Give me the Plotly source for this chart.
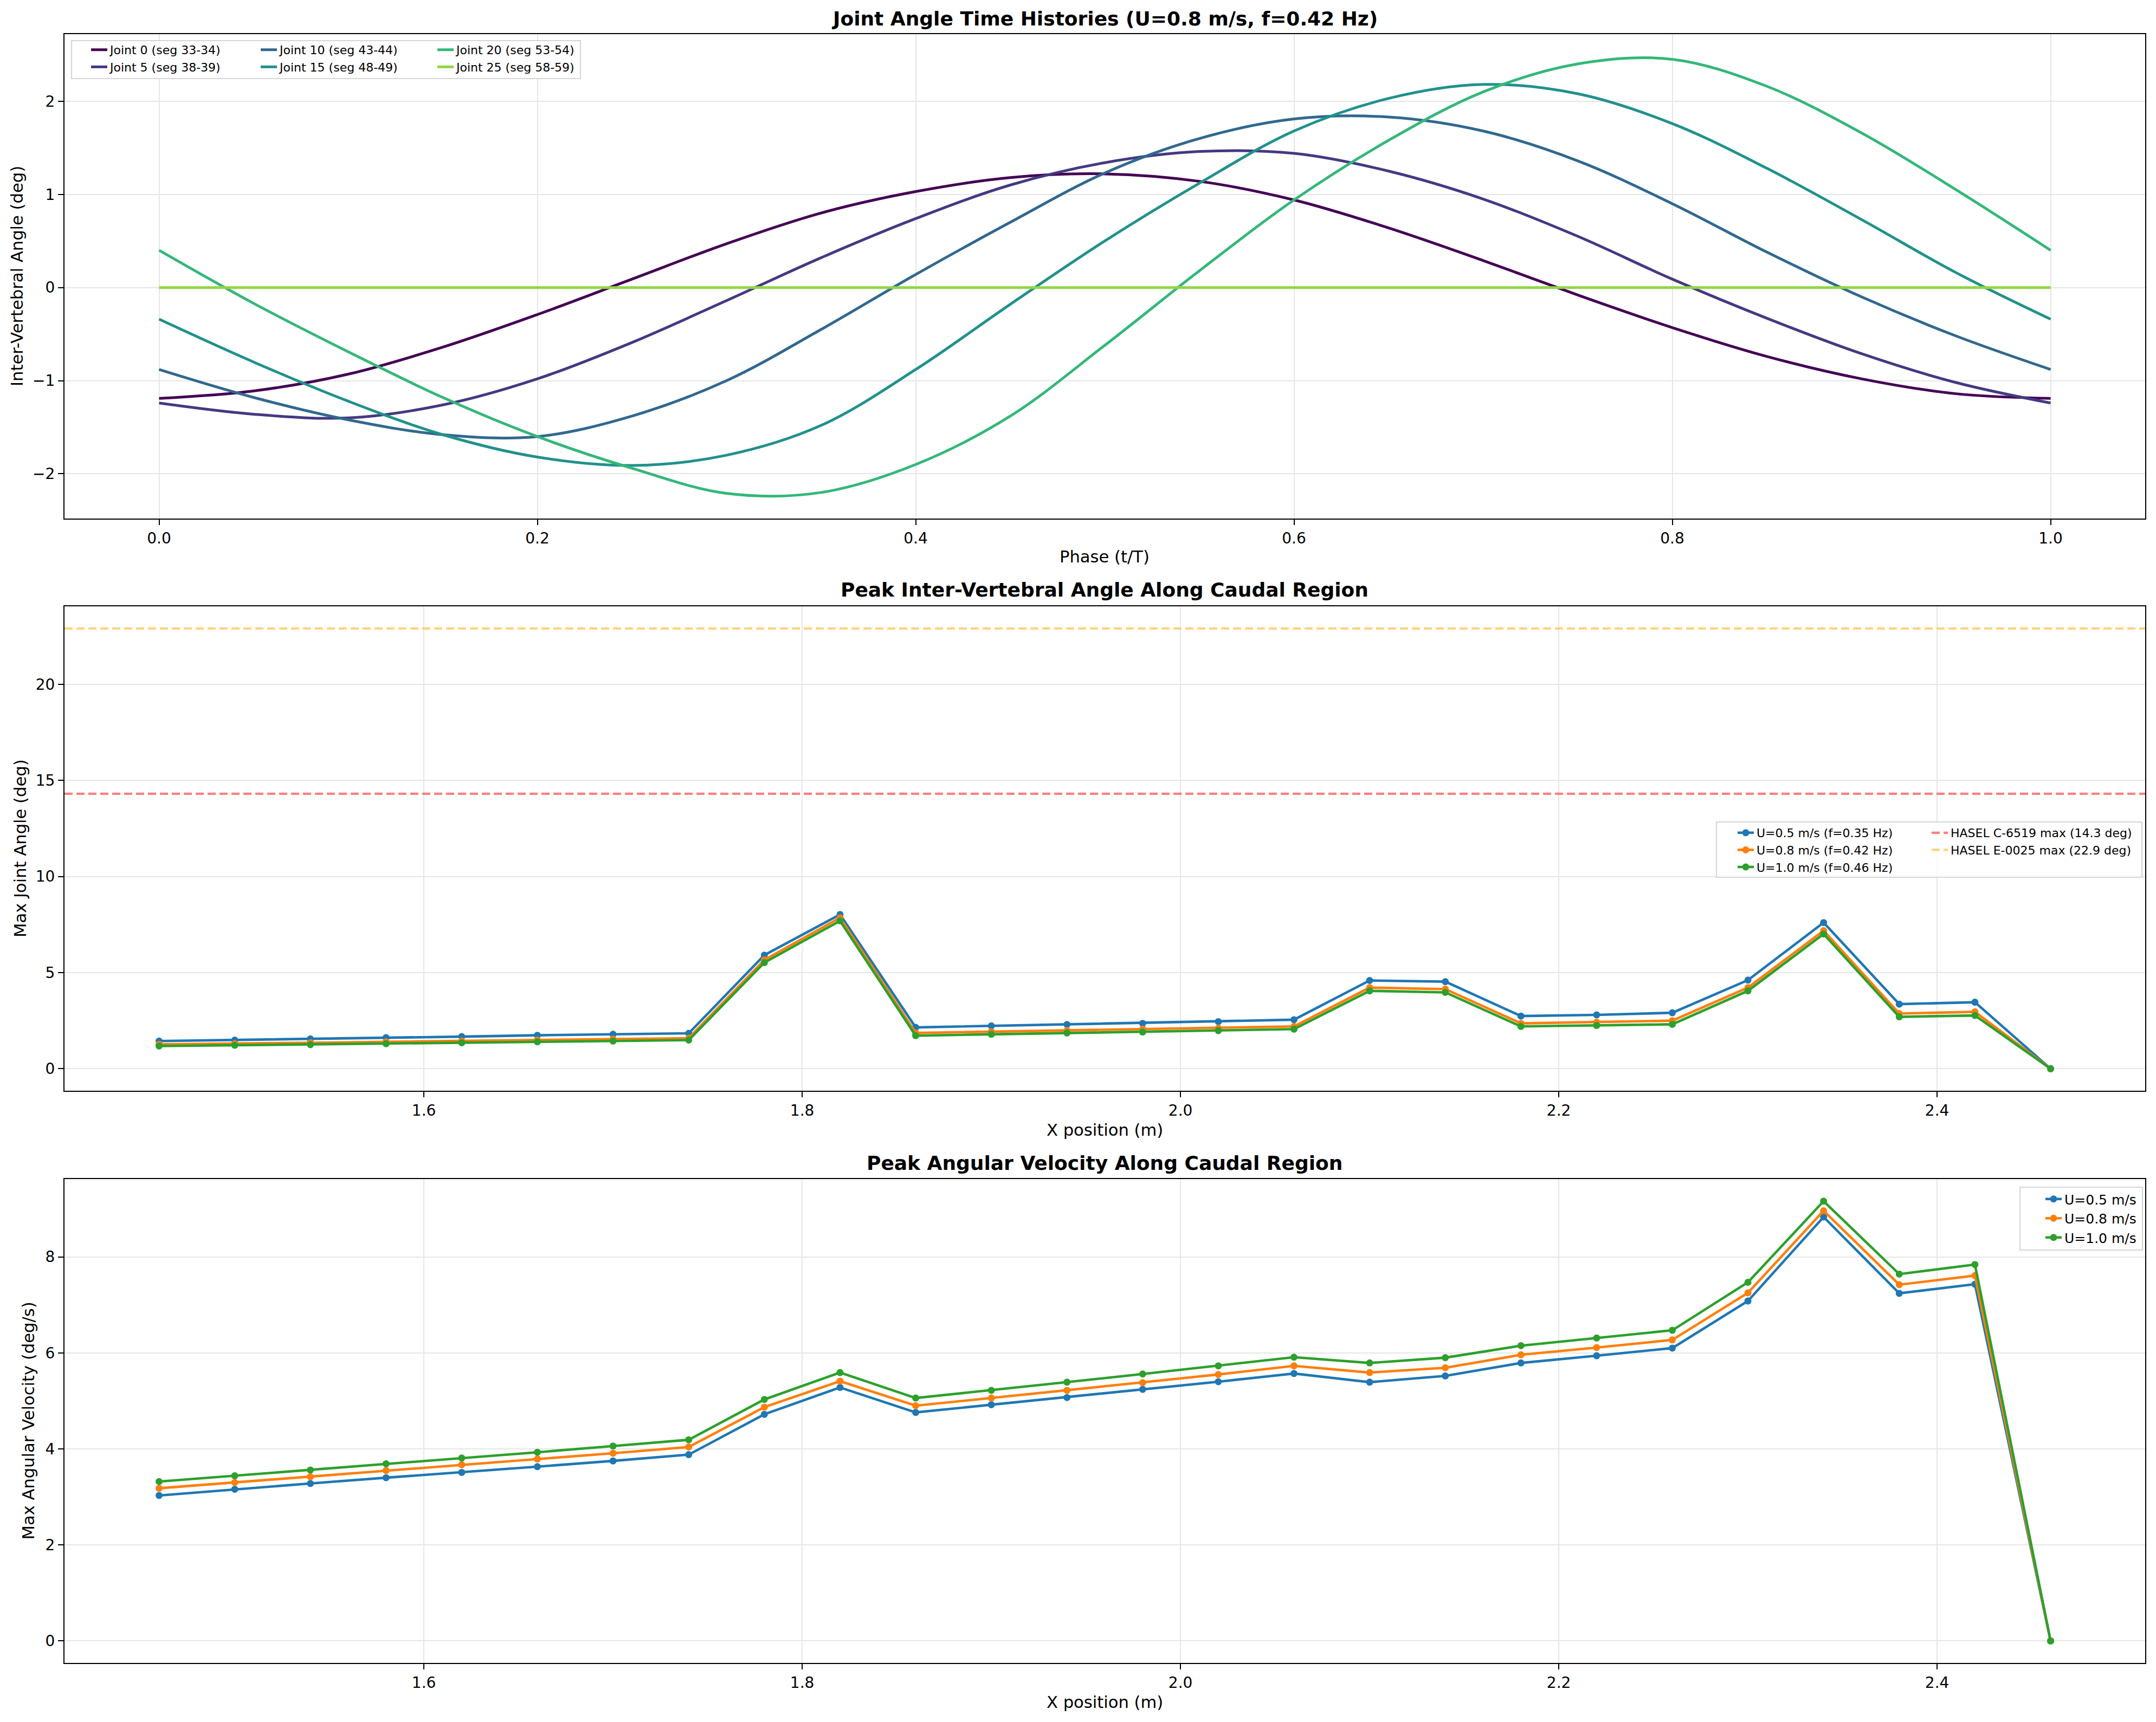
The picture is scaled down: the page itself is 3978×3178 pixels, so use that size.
import plotly.graph_objects as go

# ---------------- data ----------------
phase = [0.00, 0.05, 0.10, 0.15, 0.20, 0.25, 0.30, 0.35, 0.40, 0.45, 0.50,
         0.55, 0.60, 0.65, 0.70, 0.75, 0.80, 0.85, 0.90, 0.95, 1.00]

joint0 = [-1.19, -1.11, -0.93, -0.64, -0.29, 0.09, 0.47, 0.80, 1.03, 1.18, 1.22,
          1.14, 0.94, 0.64, 0.29, -0.08, -0.43, -0.74, -0.98, -1.14, -1.19]
joint5 = [-1.24, -1.36, -1.40, -1.26, -0.98, -0.59, -0.14, 0.32, 0.74, 1.10, 1.34,
          1.46, 1.44, 1.25, 0.95, 0.55, 0.09, -0.33, -0.71, -1.02, -1.24]
joint10 = [-0.88, -1.18, -1.42, -1.58, -1.60, -1.38, -1.00, -0.45, 0.14, 0.70, 1.23,
           1.60, 1.81, 1.83, 1.68, 1.36, 0.90, 0.38, -0.10, -0.52, -0.88]
joint15 = [-0.34, -0.80, -1.22, -1.58, -1.82, -1.91, -1.80, -1.48, -0.88, -0.18, 0.50,
           1.12, 1.68, 2.03, 2.18, 2.08, 1.76, 1.28, 0.73, 0.16, -0.34]
joint20 = [0.40, -0.17, -0.69, -1.18, -1.60, -1.94, -2.21, -2.20, -1.90, -1.38, -0.62,
           0.18, 0.94, 1.58, 2.10, 2.40, 2.45, 2.16, 1.66, 1.05, 0.40]
joint25 = [0.0, 0.0, 0.0, 0.0, 0.0, 0.0, 0.0, 0.0, 0.0, 0.0, 0.0,
           0.0, 0.0, 0.0, 0.0, 0.0, 0.0, 0.0, 0.0, 0.0, 0.0]

joint_names = ["Joint 0 (seg 33-34)", "Joint 5 (seg 38-39)", "Joint 10 (seg 43-44)",
               "Joint 15 (seg 48-49)", "Joint 20 (seg 53-54)", "Joint 25 (seg 58-59)"]
joint_colors = ["#440154", "#443983", "#31688e", "#21918c", "#35b779", "#90d743"]

x_pos = [1.46, 1.50, 1.54, 1.58, 1.62, 1.66, 1.70, 1.74, 1.78, 1.82, 1.86, 1.90, 1.94,
         1.98, 2.02, 2.06, 2.10, 2.14, 2.18, 2.22, 2.26, 2.30, 2.34, 2.38, 2.42, 2.46]

angle_u05 = [1.44, 1.49, 1.55, 1.62, 1.67, 1.74, 1.79, 1.84, 5.91, 8.02, 2.15, 2.23, 2.30,
             2.36, 2.45, 2.55, 4.59, 4.53, 2.74, 2.80, 2.91, 4.61, 7.60, 3.36, 3.46, 0.0]
angle_u08 = [1.27, 1.30, 1.35, 1.40, 1.44, 1.49, 1.54, 1.59, 5.66, 7.85, 1.86, 1.93, 1.99,
             2.06, 2.11, 2.20, 4.22, 4.14, 2.36, 2.42, 2.50, 4.22, 7.18, 2.87, 2.96, 0.0]
angle_u10 = [1.18, 1.22, 1.25, 1.30, 1.35, 1.40, 1.44, 1.49, 5.52, 7.69, 1.72, 1.79, 1.86,
             1.91, 1.98, 2.06, 4.05, 3.97, 2.20, 2.25, 2.31, 4.05, 7.01, 2.70, 2.77, 0.0]

vel_u05 = [3.03, 3.16, 3.28, 3.40, 3.51, 3.63, 3.75, 3.88, 4.72, 5.28, 4.76, 4.92, 5.07,
           5.24, 5.40, 5.57, 5.39, 5.52, 5.79, 5.94, 6.10, 7.08, 8.83, 7.24, 7.43, 0.0]
vel_u08 = [3.18, 3.30, 3.42, 3.55, 3.67, 3.79, 3.91, 4.04, 4.87, 5.41, 4.90, 5.06, 5.22,
           5.38, 5.55, 5.73, 5.59, 5.69, 5.96, 6.11, 6.27, 7.25, 8.96, 7.42, 7.61, 0.0]
vel_u10 = [3.32, 3.44, 3.56, 3.69, 3.81, 3.93, 4.06, 4.19, 5.03, 5.59, 5.06, 5.22, 5.39,
           5.56, 5.73, 5.91, 5.79, 5.90, 6.15, 6.31, 6.47, 7.47, 9.16, 7.64, 7.84, 0.0]

angle_names = ["U=0.5 m/s (f=0.35 Hz)", "U=0.8 m/s (f=0.42 Hz)", "U=1.0 m/s (f=0.46 Hz)"]
vel_names = ["U=0.5 m/s", "U=0.8 m/s", "U=1.0 m/s"]
speed_colors = ["#1f77b4", "#ff7f0e", "#2ca02c"]

hasel_limits = [14.3, 22.9]
hasel_names = ["HASEL C-6519 max (14.3 deg)", "HASEL E-0025 max (22.9 deg)"]
hasel_colors = ["rgba(255,0,0,0.5)", "rgba(255,165,0,0.5)"]

titles = ["Joint Angle Time Histories (U=0.8 m/s, f=0.42 Hz)",
          "Peak Inter-Vertebral Angle Along Caudal Region",
          "Peak Angular Velocity Along Caudal Region"]
xlabels = ["Phase (t/T)", "X position (m)", "X position (m)"]
ylabels = ["Inter-Vertebral Angle (deg)", "Max Joint Angle (deg)", "Max Angular Velocity (deg/s)"]

# ---------------- geometry (pixels) ----------------
W, H = 3978, 3178
def px(x):
    return x / W
def py(y):
    return 1 - y / H

FONT = "DejaVu Sans"
left, right = 119, 3958
panels = [(63, 957), (1119, 2013), (2176, 3069)]  # top, bottom in px

fig = go.Figure()

# panel 1 traces, split over three legends (columns)
joint_series = [joint0, joint5, joint10, joint15, joint20, joint25]
legend_cols = ["legend", "legend", "legend2", "legend2", "legend3", "legend3"]
for ys, nm, col, lg in zip(joint_series, joint_names, joint_colors, legend_cols):
    fig.add_trace(go.Scatter(x=phase, y=ys, name=nm, mode="lines",
                             line=dict(color=col, width=5, shape="spline", smoothing=1.0),
                             xaxis="x", yaxis="y", legend=lg))

# panel 2 traces
for ys, nm, col in zip([angle_u05, angle_u08, angle_u10], angle_names, speed_colors):
    fig.add_trace(go.Scatter(x=x_pos, y=ys, name=nm, mode="lines+markers",
                             line=dict(color=col, width=4.6), marker=dict(size=13, color=col),
                             xaxis="x2", yaxis="y2", legend="legend4"))
for val, nm, col in zip(hasel_limits, hasel_names, hasel_colors):
    fig.add_trace(go.Scatter(x=[None], y=[None], name=nm, mode="lines",
                             line=dict(color=col, width=4.2, dash="15px,7px"),
                             xaxis="x2", yaxis="y2", legend="legend5"))
    fig.add_shape(type="line", xref="x2 domain", yref="y2", x0=0, x1=1, y0=val, y1=val,
                  line=dict(color=col, width=4.2, dash="15px,7px"), layer="above")

# panel 3 traces
for ys, nm, col in zip([vel_u05, vel_u08, vel_u10], vel_names, speed_colors):
    fig.add_trace(go.Scatter(x=x_pos, y=ys, name=nm, mode="lines+markers",
                             line=dict(color=col, width=4.6), marker=dict(size=13, color=col),
                             xaxis="x3", yaxis="y3", legend="legend6"))

axis_common = dict(showline=True, mirror=True, linecolor="black", linewidth=2.2,
                   ticks="outside", ticklen=10, tickwidth=2.2, tickcolor="black",
                   tickfont=dict(family=FONT, size=28, color="black"),
                   showgrid=True, gridcolor="#e6e6e6", gridwidth=2.2, zeroline=False)

x_ranges = [[-0.05, 1.05], [1.41, 2.51], [1.41, 2.51]]
y_ranges = [[-2.48, 2.72], [-1.145, 24.05], [-0.458, 9.62]]
x_ticks = [[0.0, 0.2, 0.4, 0.6, 0.8, 1.0], [1.6, 1.8, 2.0, 2.2, 2.4], [1.6, 1.8, 2.0, 2.2, 2.4]]
y_ticks = [[-2, -1, 0, 1, 2], [0, 5, 10, 15, 20], [0, 2, 4, 6, 8]]

layout = dict(width=W, height=H, margin=dict(l=0, r=0, t=0, b=0),
              paper_bgcolor="white", plot_bgcolor="white", showlegend=True,
              font=dict(family=FONT, color="black"))
for i in range(3):
    sfx = "" if i == 0 else str(i + 1)
    top, bot = panels[i]
    layout["xaxis" + sfx] = dict(axis_common, domain=[px(left), px(right)], anchor="y" + sfx,
                                 range=x_ranges[i], tickvals=x_ticks[i], tickformat=".1f")
    layout["yaxis" + sfx] = dict(axis_common, domain=[py(bot), py(top)], anchor="x" + sfx,
                                 range=y_ranges[i], tickvals=y_ticks[i])

leg_common = dict(bgcolor="rgba(0,0,0,0)", borderwidth=0, orientation="v",
                  xanchor="left", yanchor="top", tracegroupgap=0)
layout["legend"] = dict(leg_common, x=px(163), y=py(71), font=dict(family=FONT, size=22))
layout["legend2"] = dict(leg_common, x=px(476), y=py(71), font=dict(family=FONT, size=22))
layout["legend3"] = dict(leg_common, x=px(802), y=py(71), font=dict(family=FONT, size=22))
layout["legend4"] = dict(leg_common, x=px(3201), y=py(1516), font=dict(family=FONT, size=22))
layout["legend5"] = dict(leg_common, x=px(3559), y=py(1516), font=dict(family=FONT, size=22))
layout["legend6"] = dict(leg_common, x=px(3769), y=py(2190), font=dict(family=FONT, size=25))
fig.update_layout(**layout)

# legend frames
for (x0, x1, y0, y1) in [(132, 1071, 75, 145), (3167, 3952, 1517, 1619), (3727, 3953, 2191, 2307)]:
    fig.add_shape(type="rect", xref="paper", yref="paper", x0=px(x0), x1=px(x1),
                  y0=py(y1), y1=py(y0), line=dict(color="#d6d6d6", width=2.2),
                  fillcolor="rgba(255,255,255,0.8)", layer="above")

# titles and axis labels
xc = px((left + right) / 2)
title_y = [34, 1089, 2146]
xlabel_y = [1027, 2085, 3141]
ylabel_x = [32, 38, 52]
for i in range(3):
    top, bot = panels[i]
    fig.add_annotation(text="<b>" + titles[i] + "</b>", xref="paper", yref="paper",
                       x=xc, y=py(title_y[i]), xanchor="center", yanchor="middle",
                       showarrow=False, font=dict(family=FONT, size=36, color="black"))
    fig.add_annotation(text=xlabels[i], xref="paper", yref="paper",
                       x=xc, y=py(xlabel_y[i]), xanchor="center", yanchor="middle",
                       showarrow=False, font=dict(family=FONT, size=30.6, color="black"))
    fig.add_annotation(text=ylabels[i], xref="paper", yref="paper", textangle=-90,
                       x=px(ylabel_x[i]), y=py((top + bot) / 2), xanchor="center", yanchor="middle",
                       showarrow=False, font=dict(family=FONT, size=30.6, color="black"))

fig.write_html("out.html")
